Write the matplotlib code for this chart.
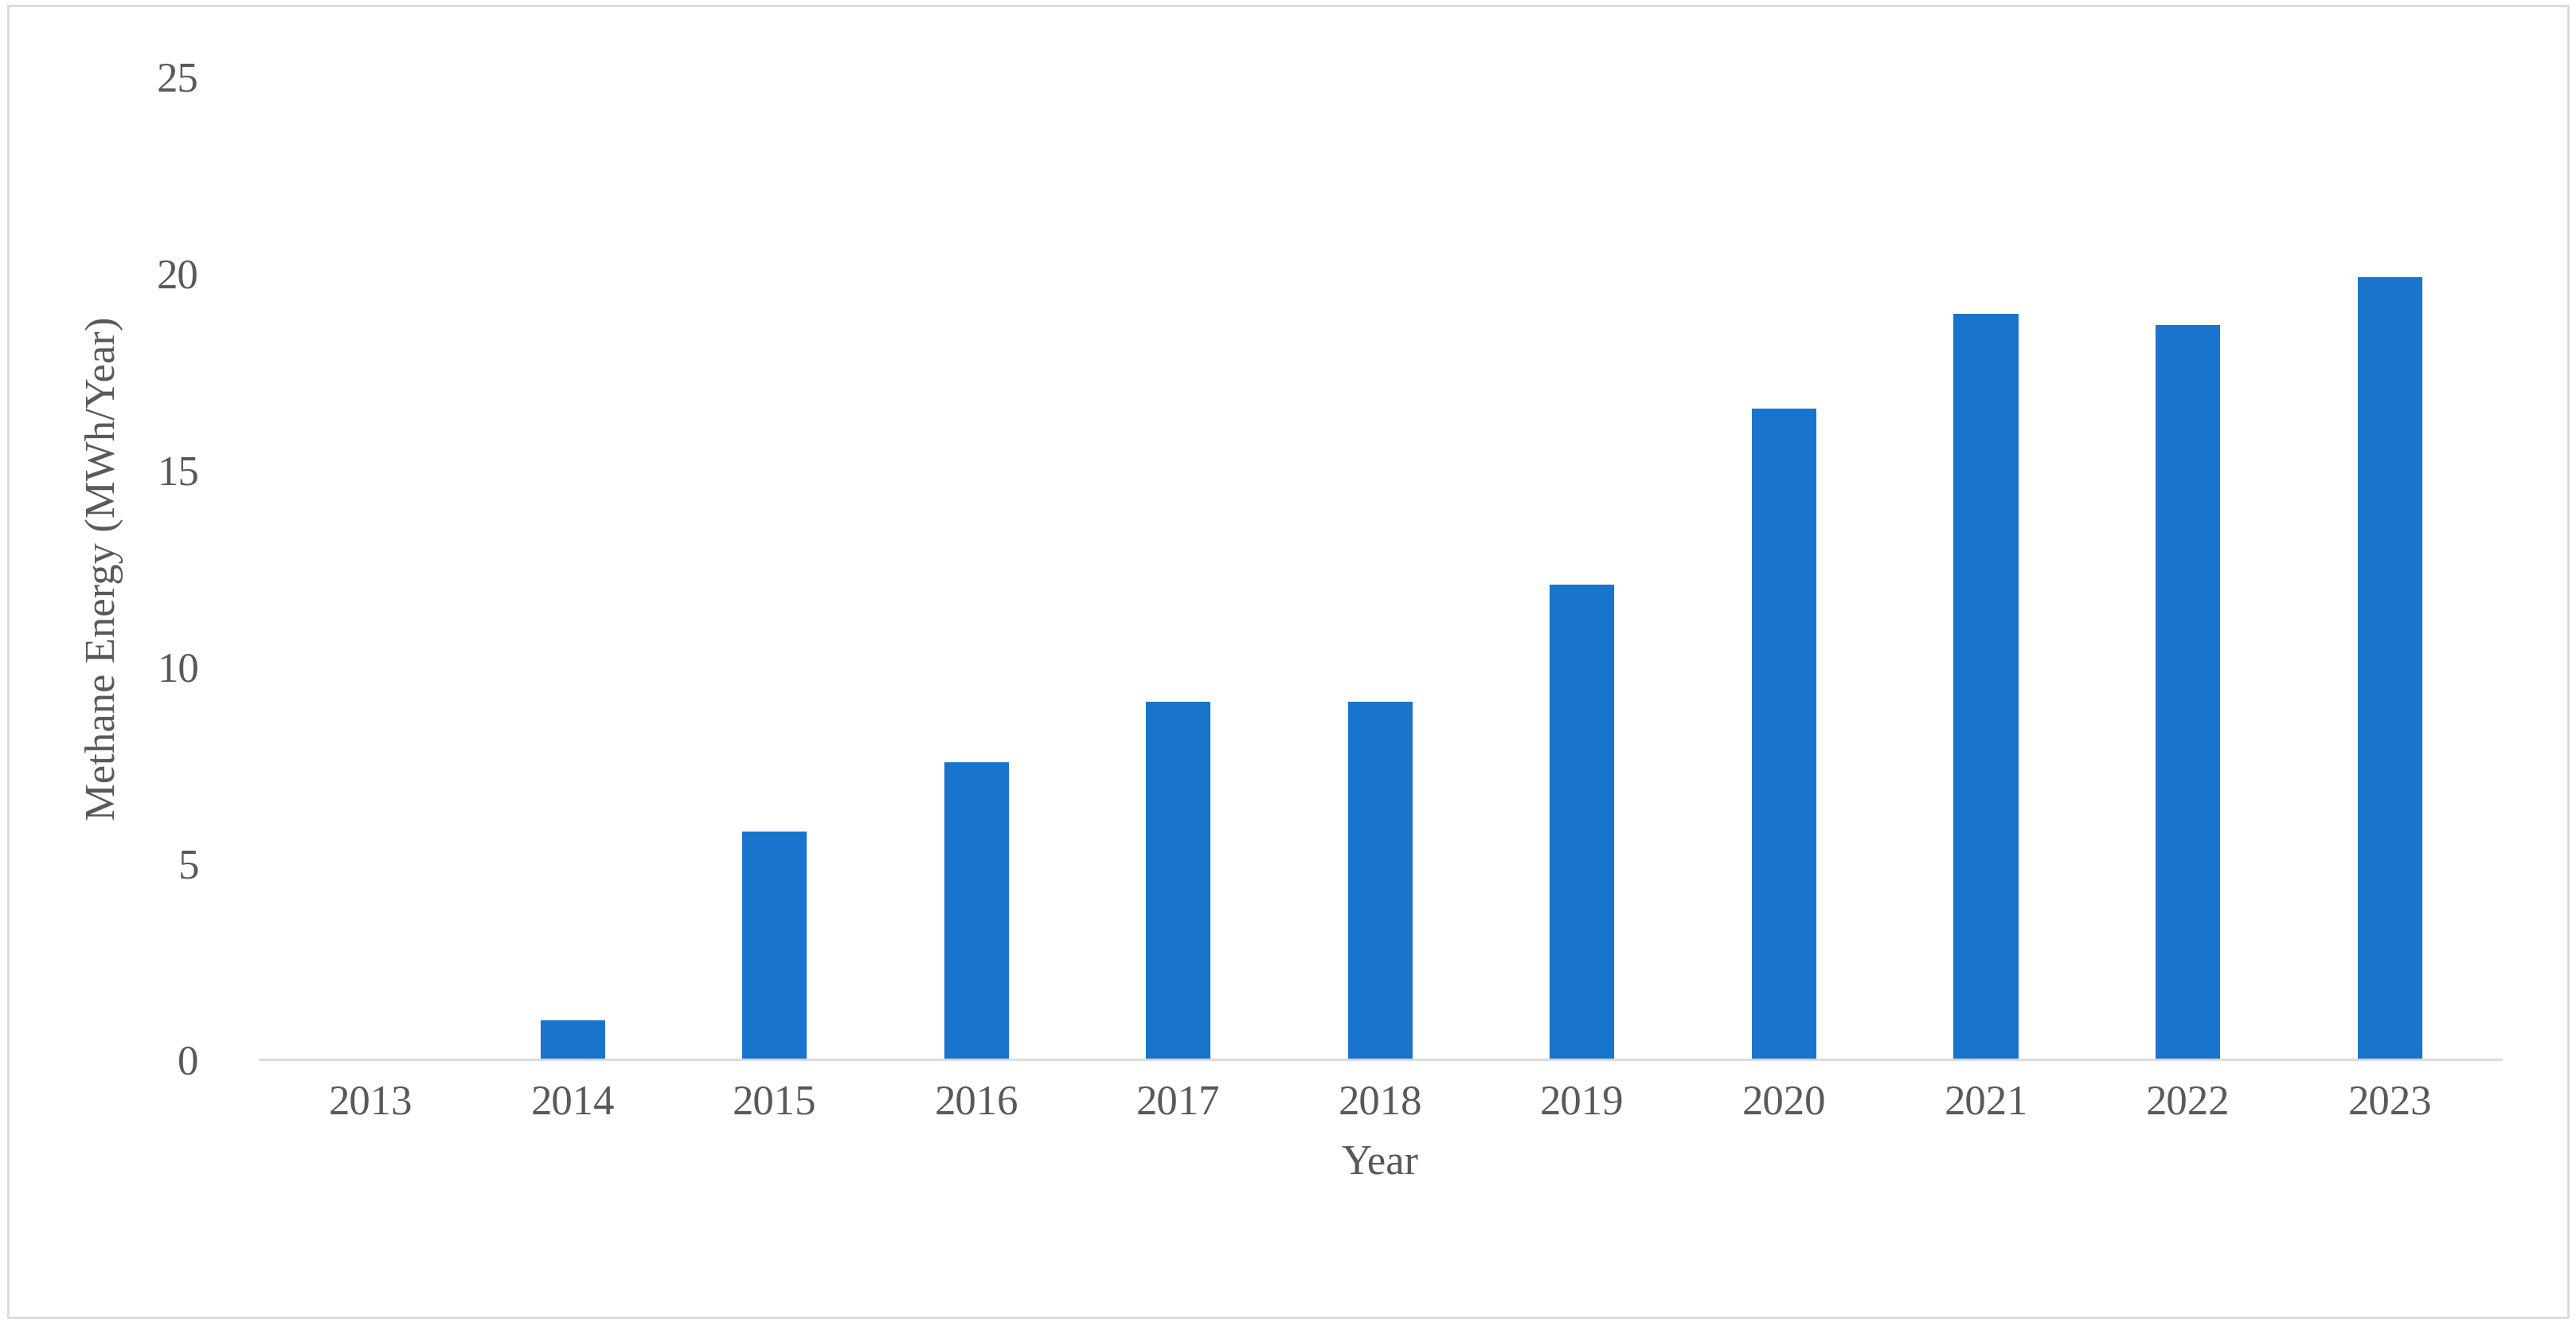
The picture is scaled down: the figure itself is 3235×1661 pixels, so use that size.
import numpy as np
import matplotlib
matplotlib.use("Agg")
import matplotlib.pyplot as plt
from matplotlib.patches import Rectangle

# Methane energy per year
years = ["2013", "2014", "2015", "2016", "2017", "2018", "2019", "2020", "2021", "2022", "2023"]
energy = [0.0, 1.0, 5.8, 7.57, 9.1, 9.1, 12.08, 16.55, 18.98, 18.68, 19.9]
y_ticks = [0, 5, 10, 15, 20, 25]

TEXT = "#595959"
BAR = "#1874CD"

plt.rcParams["font.family"] = ["Liberation Serif", "DejaVu Serif"]

fig = plt.figure(figsize=(32.35, 16.61), dpi=100)
ax = fig.add_axes([0.1008, 0.199, 0.870, 0.743])

x = np.arange(len(years))
ax.bar(x, energy, width=0.32, color=BAR)

ax.set_xlim(-0.55, len(years) - 0.45)
ax.set_ylim(0, 25)
ax.set_xticks(x)
ax.set_xticklabels(years)
ax.set_yticks(y_ticks)

for s in ["top", "right", "left"]:
    ax.spines[s].set_visible(False)
ax.spines["bottom"].set_color("#d9d9d9")
ax.spines["bottom"].set_linewidth(2)
ax.tick_params(axis="both", length=0, labelsize=38, colors=TEXT, pad=22)
ax.tick_params(axis="y", pad=55)

ax.set_xlabel("Year", fontsize=38, color=TEXT, labelpad=20)
ax.set_ylabel("Methane Energy (MWh/Year)", fontsize=38, color=TEXT, labelpad=30)

fig.patches.append(Rectangle((0.003, 0.004), 0.994, 0.992, transform=fig.transFigure,
                             fill=False, edgecolor="#d9d9d9", linewidth=2))

fig.savefig("out.png", dpi=100)
